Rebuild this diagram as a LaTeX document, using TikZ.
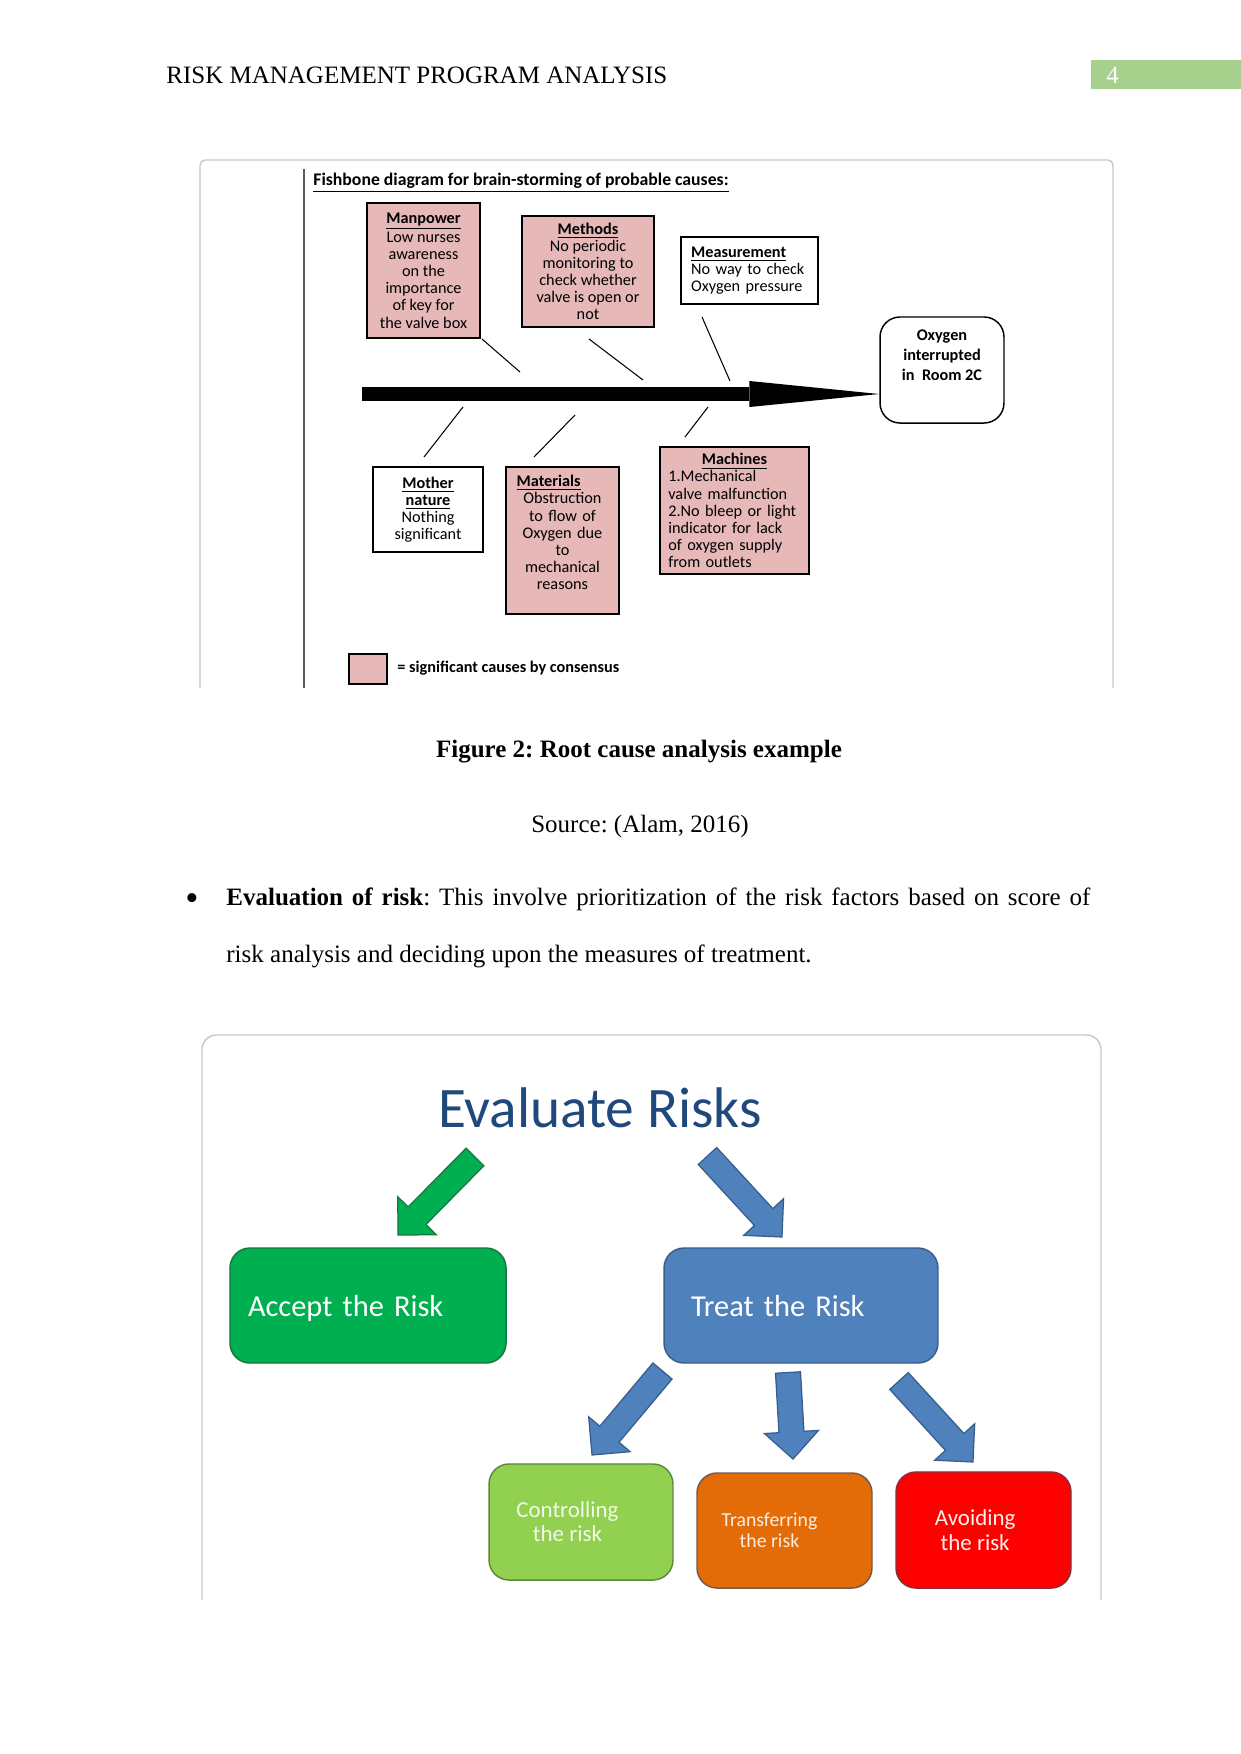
\documentclass[tikz,border=0pt]{standalone}
\usepackage{fontspec}
\setmainfont{Liberation Serif}
\newfontfamily\calibri{Carlito}
\usepackage{xcolor}
\usetikzlibrary{arrows.meta, calc}
\frenchspacing

\definecolor{sigpink}{RGB}{230,185,184}
\definecolor{pagegreen}{RGB}{168,208,141}
\definecolor{framegray}{RGB}{200,200,200}
\definecolor{evalblue}{RGB}{31,73,125}
\definecolor{acceptgreen}{RGB}{0,176,80}
\definecolor{acceptborder}{RGB}{20,120,60}
\definecolor{treatblue}{RGB}{79,129,189}
\definecolor{treatborder}{RGB}{56,93,138}
\definecolor{ctrlgreen}{RGB}{146,208,80}
\definecolor{ctrlborder}{RGB}{95,135,60}
\definecolor{transorange}{RGB}{227,108,9}
\definecolor{transborder}{RGB}{115,90,75}
\definecolor{avoidred}{RGB}{255,0,0}
\definecolor{avoidborder}{RGB}{135,45,55}

\newcommand{\causehead}[1]{\underline{\textbf{#1}}}
\newcommand{\blockarrow}[3]{%
  \draw[#1] let \p1=(#2), \p2=(#3), \n1={atan2(\y2-\y1,\x2-\x1)}, \n2={veclen(\x2-\x1,\y2-\y1)} in
    [shift={(\p1)}, rotate=\n1] (0pt,-6pt) -- (\n2-13pt,-6pt) -- (\n2-13pt,-13pt) -- (\n2,0pt)
    -- (\n2-13pt,13pt) -- (\n2-13pt,6pt) -- (0pt,6pt) -- cycle;}

\begin{document}
\begin{tikzpicture}[x=0.48pt, y=-0.48pt, every node/.style={inner sep=0pt},
  cause/.style={draw=black, line width=0.9pt, fill=sigpink, align=center, font=\calibri\fontsize{7.8}{8.2}\selectfont},
  plaincause/.style={cause, fill=white},
  bone/.style={line width=0.5pt},
  riskbox/.style={rounded corners=9.6pt, line width=0.7pt, align=center},
  risklabel/.style={align=center, font=\calibri\fontsize{11}{11.5}\selectfont},
  acceptarrow/.style={fill=acceptgreen, draw=acceptborder, line width=0.6pt},
  treatarrow/.style={fill=treatblue, draw=treatborder, line width=0.6pt}]
  \useasboundingbox (0,0) rectangle (1241,1754);

  \node[anchor=base west, font=\fontsize{12}{14}\selectfont] (header) at (166,83) {RISK MANAGEMENT PROGRAM ANALYSIS};
  \node[anchor=north west, fill=pagegreen, text=white, minimum height=13.9pt, text width=57.6pt, inner xsep=7.2pt, align=left, font=\fontsize{12}{14}\selectfont] (pagenum) at (1091,60) {4};

  \draw[framegray, line width=0.7pt, rounded corners=2.5pt] (200,688) -- (200,160) -- (1113,160) -- (1113,688);
  \draw[black!65, line width=1pt] (304,169) -- (304,688);
  \node[anchor=base west, font=\calibri\bfseries\fontsize{8.5}{10}\selectfont] (fishtitle) at (313,185) {\underline{Fishbone diagram for brain-storming of probable causes:}};

  \node[cause, minimum width=54.2pt, minimum height=64.8pt] (manpower) at (423.5,270.5) {\causehead{Manpower}\\Low nurses\\awareness\\on the\\importance\\of key for\\the valve box};
  \node[cause, minimum width=63.4pt, minimum height=53.3pt] (methods) at (588,271.5) {\causehead{Methods}\\No periodic\\monitoring to\\check whether\\valve is open or\\not};
  \node[plaincause, minimum width=65.8pt, minimum height=32.2pt, text width=56pt, align=left] (measurement) at (749.5,270.5) {\causehead{Measurement}\\No way to check\\Oxygen pressure};
  \node[plaincause, rounded corners=9.6pt, line width=0.7pt, minimum width=59.5pt, minimum height=50.9pt,
    label={[anchor=north, yshift=-6.5pt, align=center, font=\calibri\bfseries\fontsize{7.8}{9.4}\selectfont]north:Oxygen\\interrupted\\in~~Room 2C}] (oxygen) at (942,370) {};
  \node[plaincause, minimum width=52.8pt, minimum height=40.8pt] (mother) at (428,509.5) {\causehead{Mother}\\\causehead{nature}\\Nothing\\significant};
  \node[cause, minimum width=54.2pt, minimum height=70.6pt, text width=44pt, text depth=57pt] (materials) at (562.5,540.5) {\causehead{Materials}\hfill\null\\Obstruction\\to flow of\\Oxygen due\\to\\mechanical\\reasons};
  \node[cause, minimum width=71.5pt, minimum height=61pt, text width=63.5pt, align=left] (machines) at (734.5,510.5) {\hfill\causehead{Machines}\hfill\null\\1.Mechanical\\valve malfunction\\2.No bleep or light\\indicator for lack\\of oxygen supply\\from outlets};

  \coordinate (spine) at (362,394);
  \draw[line width=6.7pt, -{Triangle[length=62.4pt, width=12.5pt, line width=0pt]}] (spine) -- (spine -| oxygen.west);

  \coordinate (mp-a) at (482,339);  \coordinate (mp-b) at (520,372);
  \coordinate (me-a) at (589,339);  \coordinate (me-b) at (643,380);
  \coordinate (ms-a) at (702,317);  \coordinate (ms-b) at (730,381);
  \coordinate (mo-a) at (424,457);  \coordinate (mo-b) at (463,407);
  \coordinate (ma-a) at (534,457);  \coordinate (ma-b) at (575,415);
  \coordinate (mc-a) at (685,437);  \coordinate (mc-b) at (708,407);
  \draw[bone] (mp-a) -- (mp-b);
  \draw[bone] (me-a) -- (me-b);
  \draw[bone] (ms-a) -- (ms-b);
  \draw[bone] (mo-a) -- (mo-b);
  \draw[bone] (ma-a) -- (ma-b);
  \draw[bone] (mc-a) -- (mc-b);

  \node[cause, minimum width=18.2pt, minimum height=14.4pt] (legend) at (368,669) {};
  \node[anchor=base west, font=\calibri\bfseries\fontsize{7.8}{9}\selectfont] (legendtext) at (397,672) {= significant causes by consensus};

  \node[anchor=base, font=\bfseries\fontsize{12}{14}\selectfont] (caption) at (639,757) {Figure 2: Root cause analysis example};
  \node[anchor=base, font=\fontsize{12}{14}\selectfont] (source) at (640,832) {Source: (Alam, 2016)};
  \node[anchor=base west, font=\fontsize{18}{18}\selectfont] (bullet) at (185,910) {\textbullet};
  \node[anchor=base west, font=\fontsize{12}{14}\selectfont] (evalline) at (226,905) {\makebox[414.7pt][s]{\textbf{Evaluation of risk}: This involve prioritization of the risk factors based on score of}};
  \node[anchor=base west, font=\fontsize{12}{14}\selectfont] (evalline2) at (226,962) {risk analysis and deciding upon the measures of treatment.};

  \draw[framegray, line width=0.7pt, rounded corners=7pt] (202,1600) -- (202,1035) -- (1101,1035) -- (1101,1600);
  \node[anchor=base, text=evalblue, font=\calibri\fontsize{27.5}{33}\selectfont] (evaluate) at (600,1127) {Evaluate Risks};

  \node[riskbox, fill=acceptgreen, draw=acceptborder, minimum width=132.5pt, minimum height=55.2pt, text width=115.2pt, text depth=0pt, align=left, text=white, font=\calibri\fontsize{14.6}{18}\selectfont] (accept) at (368,1305.5) {Accept the Risk};
  \node[riskbox, fill=treatblue, draw=treatborder, minimum width=131.5pt, minimum height=55.2pt, text width=105.6pt, text depth=0pt, align=left, text=white, font=\calibri\fontsize{14.6}{18}\selectfont] (treat) at (801,1305.5) {Treat the Risk};
  \node[riskbox, fill=ctrlgreen, draw=ctrlborder, minimum width=88.3pt, minimum height=55.7pt,
    label={[risklabel, xshift=-6.5pt, text=white!88!ctrlgreen]center:Controlling\\the risk}] (controlling) at (581,1522) {};
  \node[riskbox, fill=transorange, draw=transborder, minimum width=84pt, minimum height=55.2pt,
    label={[risklabel, xshift=-7.2pt, text=white!88!transorange, font=\calibri\fontsize{9.5}{10}\selectfont]center:Transferring\\the risk}] (transferring) at (784.5,1530.5) {};
  \node[riskbox, fill=avoidred, draw=avoidborder, minimum width=84pt, minimum height=55.7pt,
    label={[risklabel, xshift=-4pt, text=white!94!avoidred, font=\calibri\fontsize{11}{12}\selectfont]center:Avoiding\\the risk}] (avoiding) at (983.5,1530) {};

  \coordinate (acc-tail) at (475,1157);   \coordinate (acc-tip) at (398,1235);
  \coordinate (trt-tail) at (707.5,1156); \coordinate (trt-tip) at (782,1237);
  \coordinate (ctl-tail) at (662.5,1371); \coordinate (ctl-tip) at (592,1455);
  \coordinate (trf-tail) at (788,1372.5); \coordinate (trf-tip) at (793,1459);
  \coordinate (avd-tail) at (899,1381);   \coordinate (avd-tip) at (973,1462);
  \blockarrow{acceptarrow}{acc-tail}{acc-tip}
  \blockarrow{treatarrow}{trt-tail}{trt-tip}
  \blockarrow{treatarrow}{ctl-tail}{ctl-tip}
  \blockarrow{treatarrow}{trf-tail}{trf-tip}
  \blockarrow{treatarrow}{avd-tail}{avd-tip}
\end{tikzpicture}
\end{document}
